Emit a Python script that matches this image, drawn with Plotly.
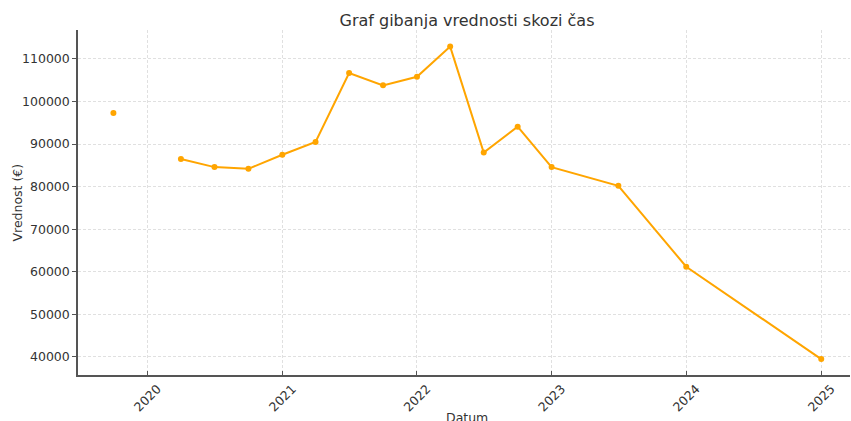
import plotly.graph_objects as go

dates = ["2019-10-01", "2020-01-01", "2020-04-01", "2020-07-01", "2020-10-01",
         "2021-01-01", "2021-04-01", "2021-07-01", "2021-10-01",
         "2022-01-01", "2022-04-01", "2022-07-01", "2022-10-01",
         "2023-01-01", "2023-07-01", "2024-01-01", "2025-01-01"]
values = [97300, None, 86500, 84600, 84200,
          87500, 90500, 106700, 103800,
          105800, 112900, 88000, 94100,
          84600, 80200, 61200, 39500]

x_ticks = ["2020-01-01", "2021-01-01", "2022-01-01", "2023-01-01", "2024-01-01", "2025-01-01"]
x_tick_labels = ["2020", "2021", "2022", "2023", "2024", "2025"]
y_ticks = [40000, 50000, 60000, 70000, 80000, 90000, 100000, 110000]

font_family = "DejaVu Sans, Liberation Sans, sans-serif"

fig = go.Figure()
fig.add_trace(go.Scatter(
    x=dates, y=values, mode="lines+markers",
    line=dict(color="#FFA500", width=2),
    marker=dict(color="#FFA500", size=6),
    connectgaps=False, showlegend=False,
))

fig.update_layout(
    width=851, height=421,
    margin=dict(l=78, r=1, t=30, b=46, autoexpand=False),
    paper_bgcolor="white", plot_bgcolor="white",
    font=dict(family=font_family, size=12.5, color="#333333"),
    title=dict(text="Graf gibanja vrednosti skozi čas", x=0.5488, xanchor="center",
               y=0.9525, yanchor="middle", font=dict(size=16, color="#333333"),
               automargin=False),
    annotations=[
        dict(text="Datum", xref="paper", yref="paper", x=0.504, y=-0.1246,
             xanchor="center", yanchor="middle", showarrow=False,
             font=dict(size=12.5, color="#333333")),
        dict(text="Vrednost (€)", xref="paper", yref="paper", x=-0.079, y=0.5,
             xanchor="center", yanchor="middle", textangle=-90, showarrow=False,
             font=dict(size=12.5, color="#333333")),
    ],
)
fig.update_xaxes(
    type="date", range=["2019-06-27", "2025-03-20"],
    tickvals=x_ticks, ticktext=x_tick_labels, tickangle=-45,
    ticklabelshift=10, ticklabelstandoff=0,
    showgrid=True, gridcolor="#e0e0e0", griddash="3px,2px", gridwidth=1,
    showline=True, linecolor="#555555", linewidth=1.5,
    ticks="inside", ticklen=4, tickcolor="#555555",
    zeroline=False, automargin=False,
)
fig.update_yaxes(
    range=[35770, 116800],
    tickvals=y_ticks, tickformat="d",
    showgrid=True, gridcolor="#e0e0e0", griddash="3px,2px", gridwidth=1,
    showline=True, linecolor="#555555", linewidth=1.5,
    ticks="outside", ticklen=4, tickcolor="#555555",
    zeroline=False, automargin=False,
)

fig.write_html("out.html", config={"displayModeBar": False},
               post_script="document.body.style.margin='0';document.body.style.overflow='hidden';")
